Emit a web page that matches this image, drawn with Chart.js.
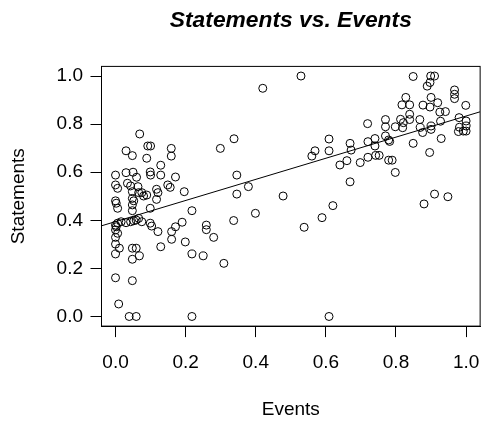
<!DOCTYPE html>
<html>
<head>
<meta charset="utf-8">
<script src="https://cdn.jsdelivr.net/npm/chart.js@4"></script>
<style>
  html, body { margin: 0; padding: 0; background: #fff; overflow: hidden; }
  #wrap { width: 494px; height: 425px; }
</style>
</head>
<body>
<div id="wrap"><canvas id="plot"></canvas></div>
<script>
// Statements vs. Events — scatter with a least-squares line, R base-graphics look.

const TITLE = 'Statements vs. Events';
const X_LABEL = 'Events';
const Y_LABEL = 'Statements';

// values
const events = [
  0, 0, 0.006, 0, 0.002, 0.006, 0, 0.002, 0.006, 0.016, 0, 0.006, 0, 0, 0.011, 0, 0, 0.009,
  0.030, 0.030, 0.034, 0.043, 0.030, 0.043, 0.052, 0.059, 0.066,
  0.048, 0.050, 0.060, 0.064, 0.048, 0.066, 0.075, 0.080, 0.089, 0.048, 0.052, 0.048, 0.048,
  0.048, 0.059, 0.048, 0.068, 0.048, 0.039, 0.059,
  0.069, 0.092, 0.100, 0.089, 0.099, 0.100, 0.129, 0.129, 0.117, 0.121, 0.117, 0.099, 0.075, 0.099, 0.103, 0.121, 0.129,
  0.159, 0.159, 0.171, 0.149, 0.156, 0.196, 0.160, 0.171, 0.190, 0.160, 0.199,
  0.218, 0.218, 0.250, 0.259, 0.259, 0.280, 0.309, 0.218, 0.299, 0.337, 0.338, 0.346, 0.346, 0.379, 0.399, 0.420,
  0.478, 0.529, 0.538, 0.560, 0.569, 0.589, 0.609, 0.609, 0.609, 0.620, 0.640, 0.660, 0.669, 0.672, 0.669, 0.698,
  0.719, 0.720, 0.720, 0.740, 0.740, 0.742, 0.752, 0.770, 0.770, 0.770, 0.779, 0.782, 0.779, 0.789, 0.798, 0.798,
  0.813, 0.821, 0.819, 0.828, 0.817, 0.839, 0.839, 0.839, 0.849, 0.849, 0.868, 0.869, 0.876, 0.877, 0.880, 0.896,
  0.899, 0.910, 0.897, 0.889, 0.900, 0.897, 0.919, 0.910, 0.900, 0.900, 0.927, 0.929, 0.925, 0.941, 0.948, 0.967,
  0.967, 0.967, 0.999, 0.980, 1.0, 1.0, 0.992, 1.0, 0.981, 0.978
];
const statements = [
  0.588, 0.547, 0.533, 0.481, 0.471, 0.450, 0.380, 0.373, 0.388, 0.394, 0.360, 0.346, 0.329, 0.301, 0.284, 0.260, 0.161, 0.052,
  0.689, 0.598, 0.554, 0.543, 0.390, 0.394, 0.398, 0.401, 0.408,
  0.669, 0.600, 0.579, 0.540, 0.519, 0.515, 0.515, 0.501, 0.505, 0.491, 0.481, 0.464, 0.440,
  0.284, 0.284, 0.238, 0.252, 0.149, 0, 0,
  0.759, 0.709, 0.709, 0.658, 0.601, 0.588, 0.629, 0.588, 0.529, 0.515, 0.487, 0.450, 0.394, 0.388, 0.376, 0.353, 0.290,
  0.699, 0.667, 0.580, 0.547, 0.537, 0.519, 0.353, 0.373, 0.392, 0.321, 0.310,
  0.440, 0.260, 0.252, 0.380, 0.361, 0.329, 0.221, 0, 0.699, 0.399, 0.739, 0.588, 0.509, 0.540, 0.429, 0.949,
  0.501, 1.0, 0.371, 0.667, 0.689, 0.411, 0.738, 0.689, 0, 0.461, 0.630, 0.648, 0.720, 0.692, 0.560, 0.640,
  0.802, 0.727, 0.662, 0.740, 0.709, 0.670, 0.670, 0.819, 0.789, 0.751, 0.734, 0.728, 0.650, 0.650, 0.789, 0.599,
  0.820, 0.806, 0.785, 0.911, 0.880, 0.880, 0.841, 0.819, 0.998, 0.720, 0.819, 0.786, 0.765, 0.879, 0.468, 0.682,
  1.0, 1.0, 0.973, 0.958, 0.911, 0.871, 0.889, 0.509, 0.792, 0.778, 0.812, 0.740, 0.850, 0.852, 0.498, 0.942,
  0.924, 0.906, 0.878, 0.827, 0.813, 0.792, 0.771, 0.771, 0.787, 0.769
];
const tickValues = [0, 0.2, 0.4, 0.6, 0.8, 1.0];
const axisMin = -0.04, axisMax = 1.04;   // R's 4% axis extension

const FONT = '"Liberation Sans", Arial, Helvetica, sans-serif';

// ordinary least squares, like abline(lm(statements ~ events))
function fitLine(xs, ys) {
  const n = xs.length;
  const mx = xs.reduce((s, v) => s + v, 0) / n;
  const my = ys.reduce((s, v) => s + v, 0) / n;
  let sxy = 0, sxx = 0;
  for (let i = 0; i < n; i++) {
    sxy += (xs[i] - mx) * (ys[i] - my);
    sxx += (xs[i] - mx) * (xs[i] - mx);
  }
  const slope = sxy / sxx;
  return { slope, intercept: my - slope * mx };
}

const fit = fitLine(events, statements);
const points = events.map((x, i) => ({ x, y: statements[i] }));
const fitPoints = [axisMin, axisMax].map(x => ({ x, y: fit.intercept + fit.slope * x }));

// box around the plot region + main title centred over it
const frameAndTitle = {
  id: 'frameAndTitle',
  afterDraw(chart) {
    const { ctx, chartArea: a } = chart;
    ctx.save();
    ctx.strokeStyle = '#000';
    ctx.lineWidth = 1;
    ctx.strokeRect(a.left, a.top, a.right - a.left, a.bottom - a.top);
    ctx.fillStyle = '#000';
    ctx.font = 'italic bold 22.8px ' + FONT;
    ctx.textAlign = 'center';
    ctx.textBaseline = 'alphabetic';
    ctx.fillText(TITLE, (a.left + a.right) / 2, 27);
    ctx.restore();
  }
};

const fixedTicks = scale => { scale.ticks = tickValues.map(v => ({ value: v })); };

function axis(opts) {
  return Object.assign({
    type: 'linear',
    min: axisMin, max: axisMax,
    afterBuildTicks: fixedTicks,
    grid: { drawOnChartArea: false, drawTicks: true, tickLength: 11, color: '#000', lineWidth: 1 },
    border: { display: true, color: '#000', width: 1 },
  }, opts);
}

new Chart(document.getElementById('plot'), {
  type: 'scatter',
  data: {
    datasets: [
      { type: 'scatter', data: points, pointStyle: 'circle', pointRadius: 4, pointHoverRadius: 4,
        borderColor: '#000', borderWidth: 1, backgroundColor: 'rgba(0,0,0,0)' },
      { type: 'line', data: fitPoints, borderColor: '#000', borderWidth: 1,
        pointRadius: 0, fill: false, tension: 0 }
    ]
  },
  options: {
    responsive: true, maintainAspectRatio: false, animation: false,
    layout: { padding: { top: 66.4, right: 1.2, bottom: 0, left: 0 } },
    plugins: { legend: { display: false }, tooltip: { enabled: false }, title: { display: false } },
    scales: {
      x: axis({
        afterFit: s => { s.height = 98.9; },
        ticks: { color: '#000', font: { size: 19, family: FONT }, padding: 14.5, maxRotation: 0,
          autoSkip: false, callback: v => v.toFixed(1) },
        title: { display: true, text: X_LABEL, color: '#000', font: { size: 19, family: FONT },
          padding: { top: 0, bottom: 3.6 } }
      }),
      y: axis({
        afterFit: s => { s.width = 101.5; },
        ticks: { color: '#000', font: { size: 19, family: FONT }, padding: 7.5,
          autoSkip: false, callback: v => v.toFixed(1) },
        title: { display: true, text: Y_LABEL, color: '#000', font: { size: 19, family: FONT },
          padding: { top: 7, bottom: 0 } }
      })
    }
  },
  plugins: [frameAndTitle]
});
</script>
</body>
</html>
